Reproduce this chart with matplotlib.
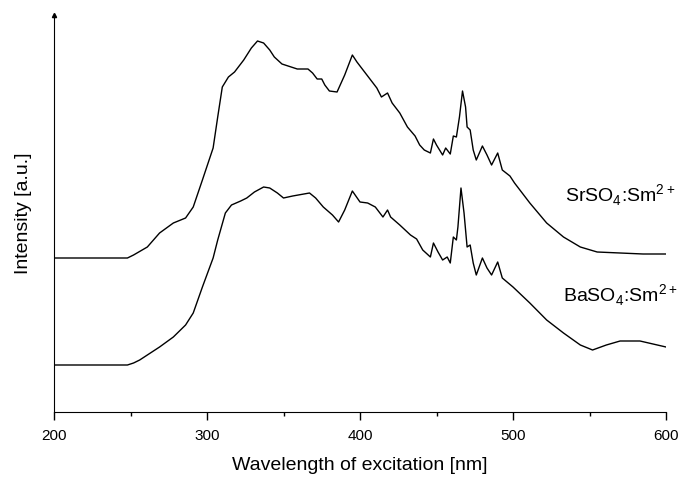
"""
Excitation spectra of SrSO4:Sm2+ and BaSO4:Sm2+ (stacked, arbitrary units)
"""
import matplotlib
matplotlib.use('Agg')
import matplotlib.pyplot as plt
from matplotlib.ticker import MultipleLocator

plt.rcParams['font.family'] = ['Liberation Sans', 'DejaVu Sans']
plt.rcParams['mathtext.fontset'] = 'custom'
plt.rcParams['mathtext.rm'] = 'Liberation Sans'

# SrSO4:Sm2+ (upper trace), wavelength [nm] vs intensity [a.u.]
sr_wl = [200, 248, 252, 261, 269, 278, 286, 291, 297, 304, 307, 310, 314, 318,
         324, 329, 333, 337, 341, 344, 349, 353, 359, 366, 369, 372, 375, 377,
         380, 385, 390, 395, 398, 401, 408, 411, 414, 418, 421, 426, 431, 436,
         439, 442, 446, 448, 450, 454, 456, 459, 461, 463, 465, 467, 469, 470,
         472, 474, 476, 480, 483, 486, 490, 493, 498, 501, 511, 522, 533, 544,
         555, 570, 585, 600]
sr_int = [154, 154, 157, 165, 179, 189, 194, 205, 232, 264, 295, 325, 335, 340,
          352, 364, 371, 369, 362, 355, 348, 346, 343, 343, 339, 333, 333, 327,
          321, 320, 337, 357, 350, 344, 330, 324, 315, 319, 309, 299, 285, 276,
          267, 262, 259, 273, 267, 257, 264, 258, 276, 275, 295, 321, 305, 285,
          282, 262, 252, 266, 257, 247, 259, 242, 236, 229, 209, 189, 175, 165,
          160, 159, 158, 158]

# BaSO4:Sm2+ (lower trace)
ba_wl = [200, 248, 252, 256, 269, 278, 286, 291, 297, 304, 307, 312, 316, 322,
         326, 331, 337, 341, 346, 350, 356, 367, 371, 376, 382, 386, 390, 395,
         400, 405, 410, 415, 418, 420, 426, 433, 437, 441, 446, 448, 451, 454,
         457, 459, 461, 463, 464, 466, 468, 470, 472, 474, 476, 480, 483, 486,
         490, 493, 500, 511, 522, 533, 544, 552, 561, 570, 583, 600]
ba_int = [47, 47, 49, 52, 65, 75, 87, 99, 125, 154, 172, 199, 207, 211,
          214, 220, 225, 224, 219, 214, 216, 219, 214, 205, 197, 190, 202, 221,
          210, 209, 205, 195, 202, 195, 187, 177, 173, 162, 155, 169, 160, 152,
          155, 149, 175, 172, 185, 224, 199, 165, 167, 149, 137, 154, 144, 137,
          150, 134, 125, 109, 92, 79, 67, 62, 67, 71, 71, 65]

labels = [r'SrSO$_\mathregular{4}$:Sm$^\mathregular{2+}$',
          r'BaSO$_\mathregular{4}$:Sm$^\mathregular{2+}$']
label_pos = [(534, 217), (533, 117)]

fig = plt.figure(figsize=(6.79, 4.78), dpi=100)
ax = fig.add_axes([54 / 679, 66 / 478, (666 - 54) / 679, 397 / 478])

ax.plot(sr_wl, sr_int, color='black', lw=1.0)
ax.plot(ba_wl, ba_int, color='black', lw=1.0)

for text, (x, y) in zip(labels, label_pos):
    ax.text(x, y, text, fontsize=14, va='center', ha='left', clip_on=False)

ax.set_xlim(200, 600)
ax.set_ylim(0, 397)
ax.spines['top'].set_visible(False)
ax.spines['right'].set_visible(False)
ax.set_yticks([])
ax.xaxis.set_major_locator(MultipleLocator(100))
ax.xaxis.set_minor_locator(MultipleLocator(50))
ax.tick_params(axis='x', which='major', direction='out', length=6, width=1, pad=6, labelsize=11)
ax.tick_params(axis='x', which='minor', direction='out', length=3, width=1)

# little arrow head on top of the y axis
ax.plot(0, 1, marker='^', color='black', markersize=3, transform=ax.transAxes, clip_on=False)

ax.set_xlabel('Wavelength of excitation [nm]', fontsize=14, labelpad=10)
ax.set_ylabel('Intensity [a.u.]', fontsize=14, labelpad=16)

plt.savefig('out.png', dpi=100)
